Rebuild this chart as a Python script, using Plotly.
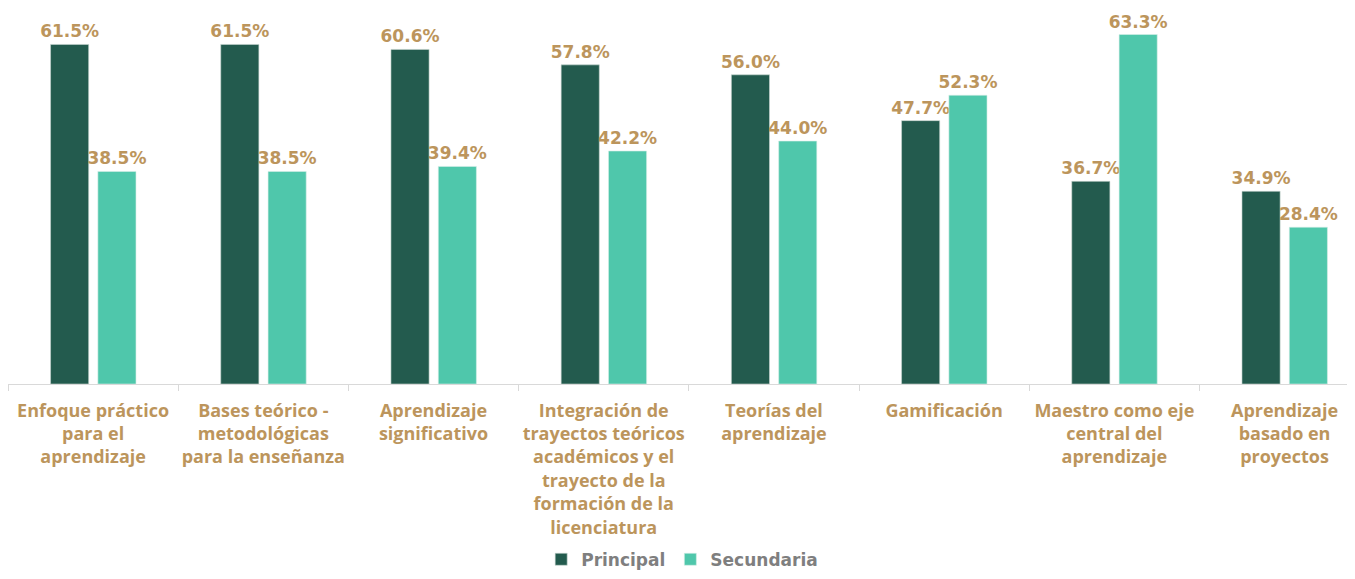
import plotly.graph_objects as go

# Data
categorias = [
    "Enfoque práctico<br>para el<br>aprendizaje",
    "Bases teórico -<br>metodológicas<br>para la enseñanza",
    "Aprendizaje<br>significativo",
    "Integración de<br>trayectos teóricos<br>académicos y el<br>trayecto de la<br>formación de la<br>licenciatura",
    "Teorías del<br>aprendizaje",
    "Gamificación",
    "Maestro como eje<br>central del<br>aprendizaje",
    "Aprendizaje<br>basado en<br>proyectos",
]
principal = [61.5, 61.5, 60.6, 57.8, 56.0, 47.7, 36.7, 34.9]
secundaria = [38.5, 38.5, 39.4, 42.2, 44.0, 52.3, 63.3, 28.4]

oscuro = "#235B4E"
claro = "#4FC7AB"
dorado = "#BC955C"
fuente = "DejaVu Sans"

fig = go.Figure()
fig.add_trace(go.Bar(
    x=categorias, y=principal, name="Principal",
    marker=dict(color=oscuro, line=dict(color="#c9d6d2", width=0.6)),
    width=0.224, offset=-0.25,
    text=[f"{v:.1f}%" for v in principal], textposition="outside",
    constraintext="none",
    textfont=dict(color=dorado, size=17, family=fuente, weight="bold"),
    cliponaxis=False,
))
fig.add_trace(go.Bar(
    x=categorias, y=secundaria, name="Secundaria",
    marker=dict(color=claro, line=dict(color="#d6eee8", width=0.6)),
    width=0.224, offset=0.028,
    text=[f"{v:.1f}%" for v in secundaria], textposition="outside",
    constraintext="none",
    textfont=dict(color=dorado, size=17, family=fuente, weight="bold"),
    cliponaxis=False,
))

# la página añade 8 px de margen, así que se compensa aquí
fig.update_layout(
    width=1339, height=563,
    margin=dict(l=0, r=0, t=0, b=187),
    plot_bgcolor="white", paper_bgcolor="white",
    showlegend=True,
    legend=dict(orientation="h", x=0.5035, xanchor="center", y=0.052, yanchor="top",
                yref="container",
                font=dict(color="#7F7F7F", size=17, family=fuente, weight="bold"),
                itemwidth=30),
    xaxis=dict(
        type="category", range=[-0.5, 7.367],
        showline=True, linecolor="#D9D9D9", linewidth=1,
        ticks="outside", tickson="boundaries", ticklen=6, tickcolor="#D9D9D9",
        tickangle=0, ticklabelstandoff=10,
        tickfont=dict(color=dorado, size=18, family="Open Sans", weight="bold"),
    ),
    yaxis=dict(range=[0, 68.1], visible=False),
)

fig.write_html("out.html")
